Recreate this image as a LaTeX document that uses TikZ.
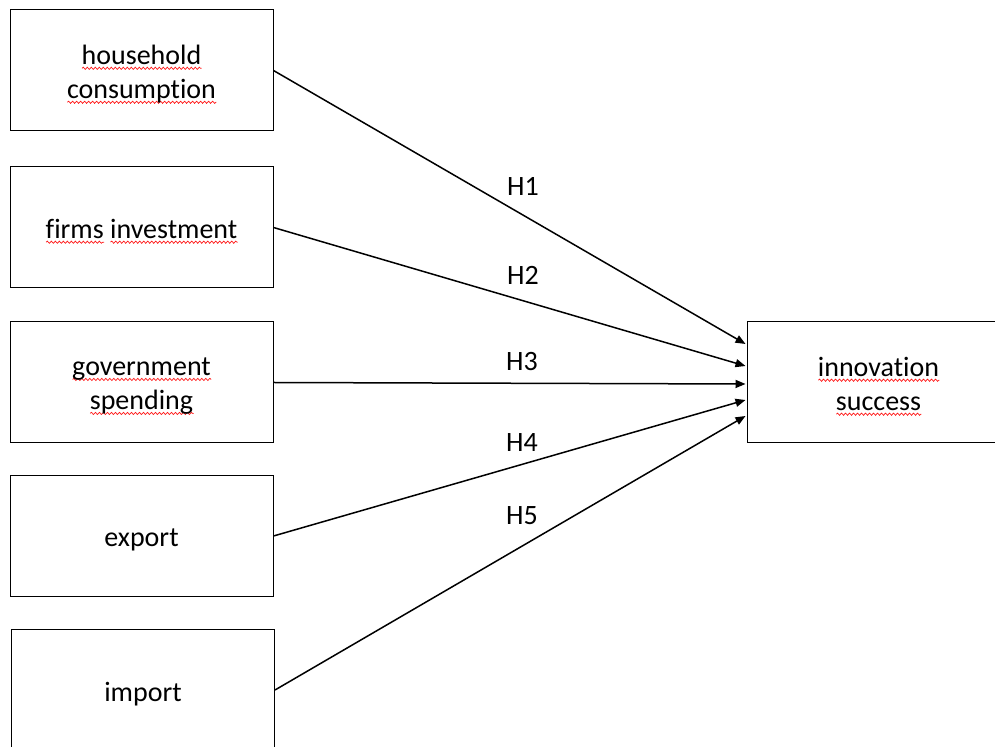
\documentclass[tikz,border=0pt]{standalone}
\usepackage{fontspec}
\setmainfont[Ligatures={NoCommon,NoContextual,NoRequired},Contextuals=NoAlternate]{Carlito}
\usepackage{tikz}
\usetikzlibrary{positioning,calc,arrows.meta,decorations.pathmorphing}

% red spell-check wave under a word
\newcommand{\spell}[1]{\setbox0\hbox{#1}%
  \rlap{\tikz[baseline=0pt]\draw[red!90, line width=0.35pt, decorate,
      decoration={snake, amplitude=0.55pt, segment length=2pt}]
      (0pt,-1.8pt) -- (\wd0,-1.8pt);}\box0}

\tikzset{
  factor/.style={draw, line width=0.5pt, minimum width=131.5pt, minimum height=60.5pt,
                 inner sep=0pt},
  wording/.style={align=center, inner sep=0pt, yshift=-2pt},
  hyp/.style={-{Triangle[length=5pt,width=4pt]}, line width=0.75pt},
}

\begin{document}
\begin{tikzpicture}[x=0.5pt, y=-0.5pt, font=\fontsize{14}{17}\selectfont]
\clip (0,0) rectangle (995,747);

\node[factor, label={[wording]center:{\spell{household}\\\spell{consumption}}}] (household) at (141.5,70.5) {};
\node[factor, label={[wording]center:{\spell{firms}\ \spell{investment}}}] (firms) at (141.5,227.5) {};
\node[factor, label={[wording]center:{\spell{government}\\\spell{spending}}}] (government) at (141.5,382.5) {};
\node[factor, label={[wording]center:export}] (export) at (141.5,536) {};
\node[factor, label={[wording]center:import}] (import) at (143,690) {};

\node[factor, label={[wording]center:{\spell{innovation}\\\spell{success}}}] (innovation) at (878.5,382.5) {};

\draw[hyp] (household.east) -- ($(innovation.west)+(-1,-38.5)$);
\draw[hyp] (firms.east) -- ($(innovation.west)+(-1,-16.5)$);
\draw[hyp] (government.east) -- ($(innovation.west)+(-1,1.5)$);
\draw[hyp] (export.east) -- ($(innovation.west)+(-1,17.5)$);
\draw[hyp] (import.east) -- ($(innovation.west)+(-1,33.5)$);

\node (h1) at (523,186) {H1};
\node (h2) at (523,275) {H2};
\node (h3) at (522,362) {H3};
\node (h4) at (522,443) {H4};
\node (h5) at (522,516) {H5};
\end{tikzpicture}
\end{document}
